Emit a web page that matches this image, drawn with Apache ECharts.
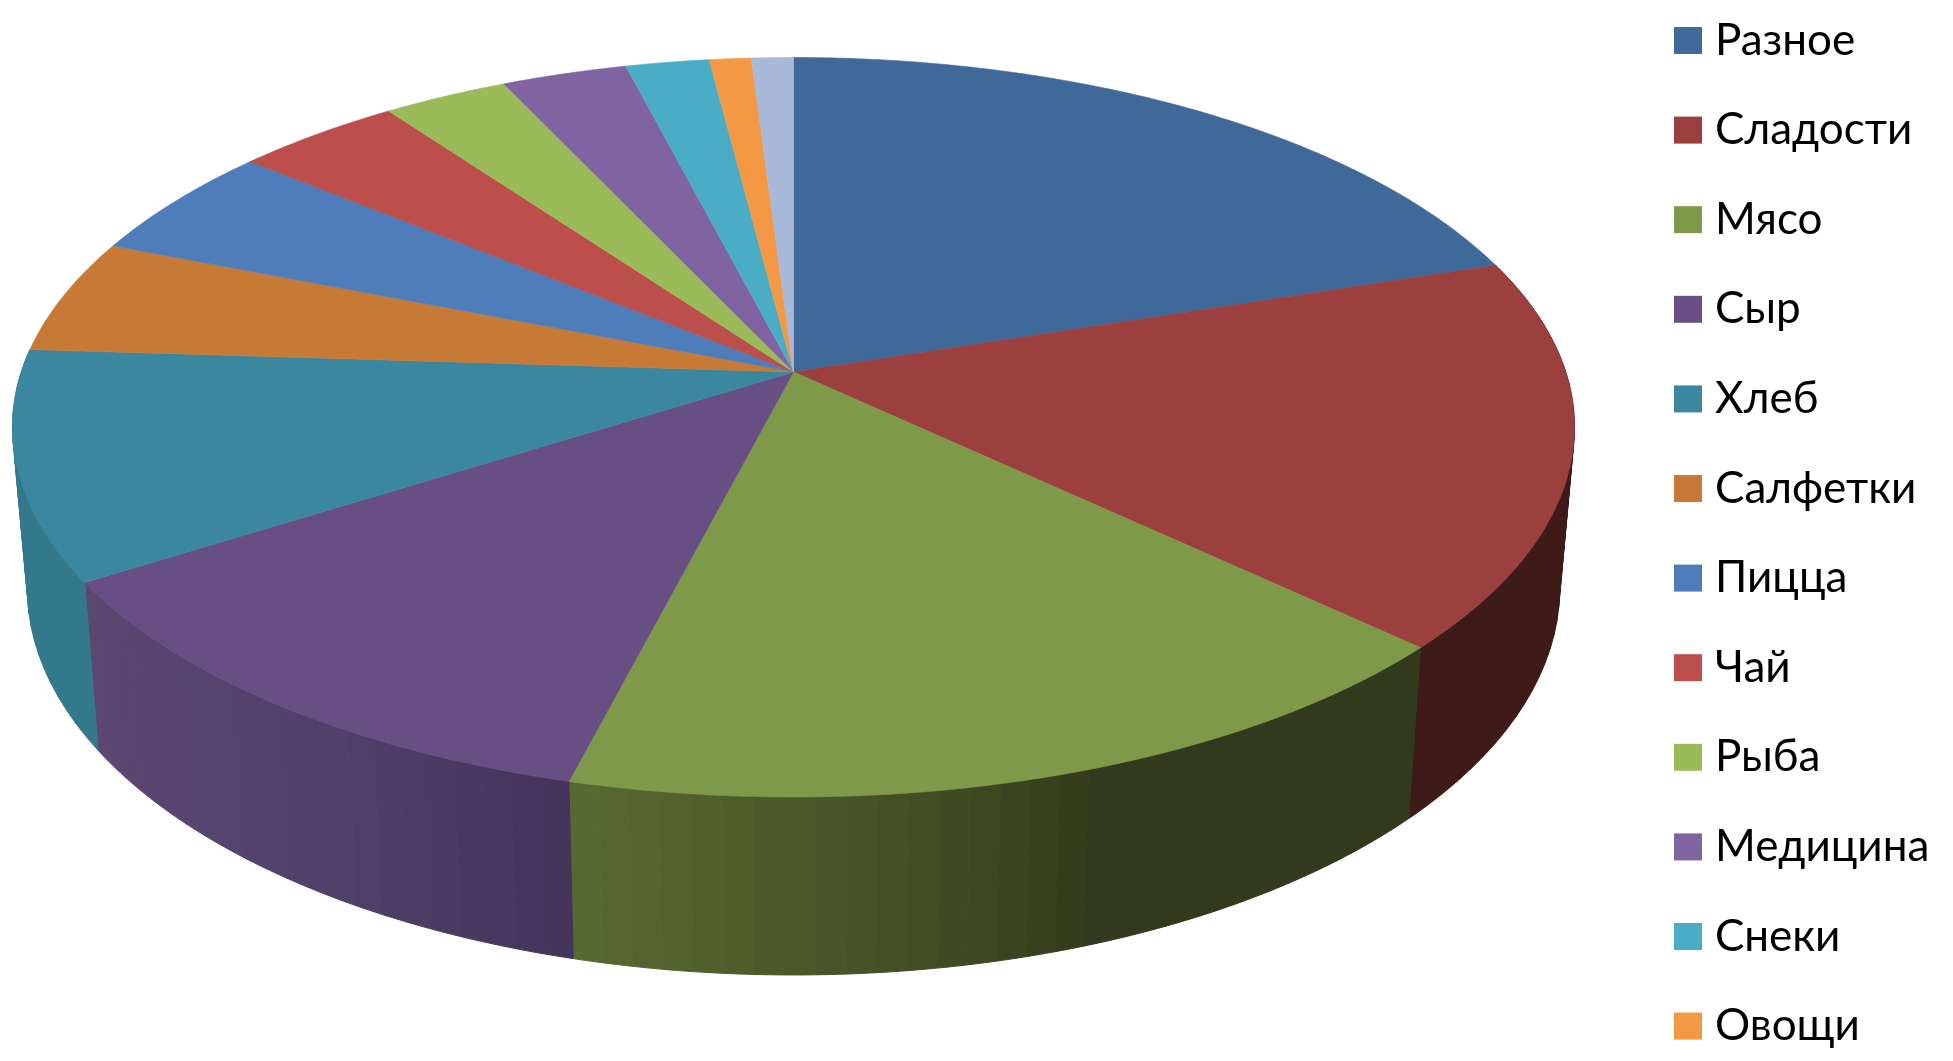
<!DOCTYPE html>
<html>
<head>
<meta charset="utf-8">
<style>html,body{margin:0;padding:0;background:#fff}#c{width:1953px;height:1061px}</style>
<script src="https://cdn.jsdelivr.net/npm/echarts@6/dist/echarts.min.js"></script>
</head>
<body>
<div id="c"></div>
<script>
const categories = ['Разное','Сладости','Мясо','Сыр','Хлеб','Салфетки','Пицца','Чай','Рыба','Медицина','Снеки','Овощи','Прочее'];
const values = [20,17,17,12,10,5,5,4,3,3,2,1,1];
const legendNames = categories.slice(0,12);
const topColors = ['#3e6999','#9b403e','#7f994a','#684f83','#3b87a0','#c77a36','#4e7dba','#bc4e4b','#9bba59','#8064a1','#4bacc6','#f39844','#a8b8d8'];
const wallStops = {
  1:[[0,'#3e1a18'],[1,'#3e1a18']],
  2:[[0,'#586a33'],[0.25,'#4a592a'],[0.45,'#3f4c23'],[0.63,'#33391c'],[1,'#32391c']],
  3:[[0,'#5c4672'],[0.5,'#50406a'],[1,'#44345a']],
  4:[[0,'#33788b'],[1,'#33788b']]
};

const apex = {x:793.5, y:372};
const persp = {a:772.2, b:361.5, k:-0.1494};
const base = {sx:0.981, sy:1.047, dy:158};
const stripDeg = 2;
const total = values.reduce((s,v)=>s+v,0);
const starts = [];
values.reduce((s,v,i)=>{starts[i]=s;return s+v;},0);

function rim(thetaDeg, bottom){
  const t = thetaDeg*Math.PI/180, u = Math.sin(t), v = -Math.cos(t);
  const d = 1+persp.k*v;
  const x = persp.a*u/d, y = persp.b*v/d;
  return bottom ? [apex.x+x*base.sx, apex.y+y*base.sy+base.dy] : [apex.x+x, apex.y+y];
}
function arc(a0,a1,bottom){
  const n = Math.max(2,Math.ceil((a1-a0)*2)), pts=[];
  for(let i=0;i<=n;i++) pts.push(rim(a0+(a1-a0)*i/n,bottom));
  return pts;
}
function shade(stops,t){
  for(let i=1;i<stops.length;i++){
    if(t<=stops[i][0]){
      const f=(t-stops[i-1][0])/(stops[i][0]-stops[i-1][0]);
      return echarts.color.lerp(f,[stops[i-1][1],stops[i][1]]);
    }
  }
  return stops[stops.length-1][1];
}
function renderSlice(idx){
  return function(){
    const a0 = starts[idx]/total*360, a1 = (starts[idx]+values[idx])/total*360;
    const children = [];
    const stops = wallStops[idx];
    if(stops){
      const xs = [rim(a0,false)[0],rim(a1,false)[0],rim(a0,true)[0],rim(a1,true)[0]];
      const x0 = Math.min.apply(null,xs), x1 = Math.max.apply(null,xs);
      const n = Math.ceil((a1-a0)/stripDeg);
      for(let i=0;i<n;i++){
        const s = a0+(a1-a0)*i/n, e = a0+(a1-a0)*(i+1)/n;
        const pts = arc(s,e,false).concat(arc(s,e,true).reverse());
        const mid = rim((s+e)/2,false)[0];
        const c = shade(stops,Math.max(0,Math.min(1,(mid-x0)/(x1-x0))));
        children.push({type:'polygon',z2:1,silent:true,shape:{points:pts},
          style:{fill:c,stroke:c,lineWidth:1}});
      }
    }
    children.push({type:'polygon',z2:5,silent:true,
      shape:{points:[[apex.x,apex.y]].concat(arc(a0,a1,false))},
      style:{fill:topColors[idx],stroke:topColors[idx],lineWidth:0.6}});
    return {type:'group',children};
  };
}
const chart = echarts.init(document.getElementById('c'),null,{renderer:'canvas'});
chart.setOption({
  animation:false,
  backgroundColor:'#fff',
  legend:{
    show:true,orient:'vertical',left:1674,top:18.5,height:1042,
    data:legendNames,icon:'rect',itemWidth:28,itemHeight:27,itemGap:45.6,
    selectedMode:false,padding:0,
    itemStyle:{borderWidth:0},
    textStyle:{fontFamily:'Lato, "Open Sans", sans-serif',fontSize:44,color:'#000',padding:[0,0,0,8]}
  },
  tooltip:{show:false},
  series:categories.map((name,i)=>({
    type:'custom',name,coordinateSystem:'none',
    itemStyle:{color:topColors[i]},
    silent:true,
    renderItem:renderSlice(i),
    data:[values[i]]
  }))
});
</script>
</body>
</html>
